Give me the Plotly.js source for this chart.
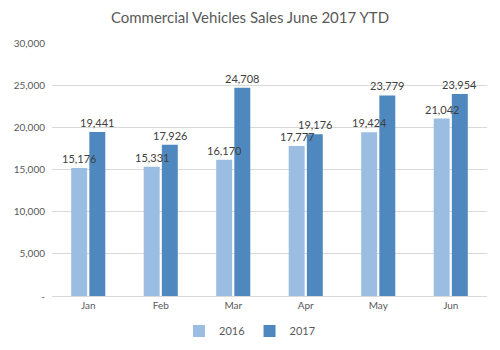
<!DOCTYPE html>
<html>
<head>
<meta charset="utf-8">
<script src="https://cdn.plot.ly/plotly-3.0.1.min.js"></script>
<style>html,body{margin:0;padding:0;background:#fff;}#chart{width:500px;height:350px;}</style>
</head>
<body>
<div id="chart"></div>
<script>
var months = ["Jan", "Feb", "Mar", "Apr", "May", "Jun"];
var sales2016 = [15176, 15331, 16170, 17777, 19424, 21042];
var sales2017 = [19441, 17926, 24708, 19176, 23779, 23954];
var tickValues = [0, 5000, 10000, 15000, 20000, 25000, 30000];
var tickLabels = ["-", "5,000", "10,000", "15,000", "20,000", "25,000", "30,000"];

function fmt(v){ return v.toLocaleString("en-US"); }

var font = "Lato, 'Open Sans', sans-serif";
var traces = [
  {type:"bar", name:"2016", x:months, y:sales2016, marker:{color:"#9bbde2"}, hoverinfo:"none"},
  {type:"bar", name:"2017", x:months, y:sales2017, marker:{color:"#4f88bf"}, hoverinfo:"none"}
];
var annotations = [];
months.forEach(function(m, i){
  annotations.push({x:m, y:sales2016[i], text:fmt(sales2016[i]), xref:"x", yref:"y", showarrow:false,
    xshift:-9, yshift:1, yanchor:"bottom", font:{size:11,color:"#404040",family:font}});
  annotations.push({x:m, y:sales2017[i], text:fmt(sales2017[i]), xref:"x", yref:"y", showarrow:false,
    xshift:9, yshift:1, yanchor:"bottom", font:{size:11,color:"#404040",family:font}});
});
var layout = {
  width:500, height:350,
  margin:{l:52, r:13, t:43, b:54},
  paper_bgcolor:"#fff", plot_bgcolor:"#fff",
  font:{family:font, color:"#595959", size:10},
  title:{text:"Commercial Vehicles Sales June 2017 YTD", font:{size:15, color:"#595959", family:font}, x:0.5, xanchor:"center", y:0.95, yanchor:"middle"},
  barmode:"group", bargap:0.5, bargroupgap:0.12,
  xaxis:{showgrid:false, showline:true, linecolor:"#d9d9d9", ticks:"", tickfont:{size:10,color:"#595959"}},
  yaxis:{range:[0,30000], tickvals:tickValues, ticktext:tickLabels, showgrid:true, gridcolor:"#d9d9d9", zeroline:false, ticks:"", tickfont:{size:10,color:"#595959"}, ticklabelstandoff:6},
  legend:{orientation:"h", x:0.5, xanchor:"center", xref:"container", yref:"container", y:0.054, yanchor:"middle", font:{size:11,color:"#595959"}, itemwidth:30, tracegroupgap:0},
  annotations:annotations,
  showlegend:true
};
Plotly.newPlot("chart", traces, layout, {displayModeBar:false, staticPlot:true});
</script>
</body>
</html>
